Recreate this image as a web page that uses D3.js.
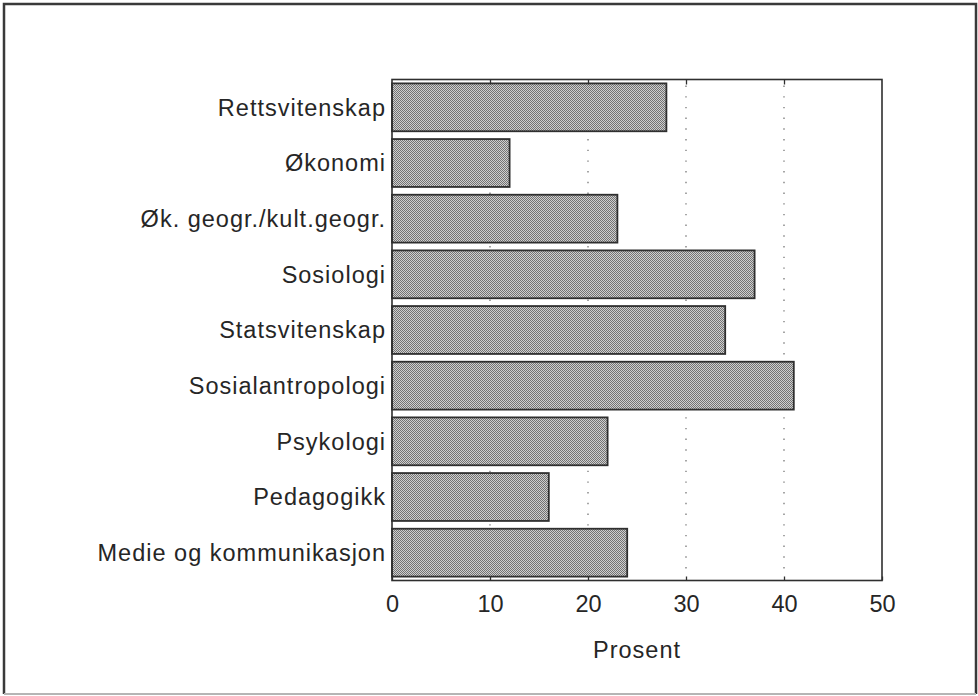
<!DOCTYPE html>
<html>
<head>
<meta charset="utf-8">
<script src="https://cdn.jsdelivr.net/npm/d3@7"></script>
<style>
  body { margin: 0; background: #fff; }
  text { font-family: "Liberation Sans", Arial, sans-serif; fill: #262626; }
</style>
</head>
<body>
<div id="root"></div>
<script>
const w = 978;
const h = 696;
const plotLeft = 392;
const plotRight = 882;
const plotTop = 79.5;
const plotBottom = 580.5;

const fields = [
  "Rettsvitenskap",
  "Økonomi",
  "Øk. geogr./kult.geogr.",
  "Sosiologi",
  "Statsvitenskap",
  "Sosialantropologi",
  "Psykologi",
  "Pedagogikk",
  "Medie og kommunikasjon",
];
const percent = [28, 12, 23, 37, 34, 41, 22, 16, 24];
const xTicks = [0, 10, 20, 30, 40, 50];
const gridTicks = [10, 20, 30, 40];

const data = fields.map((f, i) => ({ field: f, value: percent[i] }));

const svg = d3
  .select("#root")
  .append("svg")
  .attr("width", w)
  .attr("height", h);

// halftone fill like the printed original
const pat = svg
  .append("defs")
  .append("pattern")
  .attr("id", "dots")
  .attr("width", 2)
  .attr("height", 2)
  .attr("patternUnits", "userSpaceOnUse");
pat.append("rect").attr("width", 2).attr("height", 2).attr("fill", "#cfcfcf");
pat.append("rect").attr("width", 1).attr("height", 1).attr("fill", "#737373");
pat.append("rect").attr("x", 1).attr("y", 1).attr("width", 1).attr("height", 1).attr("fill", "#737373");

// outer frame
const frame = svg.append("g").attr("fill", "none");
frame.append("path").attr("d", "M4,694 V4 H976 V694").attr("stroke", "#3a3a3a").attr("stroke-width", 2.5);
frame.append("line").attr("x1", 4).attr("x2", 976).attr("y1", 694).attr("y2", 694).attr("stroke", "#b5b5b5").attr("stroke-width", 2);

const xScale = d3.scaleLinear().domain([0, 50]).range([plotLeft, plotRight]);
const yScale = d3
  .scaleBand()
  .domain(fields)
  .range([plotTop, plotBottom])
  .paddingInner(0.14)
  .paddingOuter(0.07);

// dotted gridlines behind the bars
svg
  .append("g")
  .selectAll("line")
  .data(gridTicks)
  .join("line")
  .attr("x1", (d) => xScale(d))
  .attr("x2", (d) => xScale(d))
  .attr("y1", plotTop + 6)
  .attr("y2", plotBottom - 3)
  .attr("stroke", "#808080")
  .attr("stroke-width", 1.4)
  .attr("stroke-dasharray", "1.4 9.3");

// bars
svg
  .append("g")
  .selectAll("rect")
  .data(data)
  .join("rect")
  .attr("x", xScale(0))
  .attr("y", (d) => yScale(d.field))
  .attr("width", (d) => xScale(d.value) - xScale(0))
  .attr("height", yScale.bandwidth())
  .attr("fill", "url(#dots)")
  .attr("stroke", "#2f2f2f")
  .attr("stroke-width", 1.8);

// plot box
svg
  .append("rect")
  .attr("x", plotLeft)
  .attr("y", plotTop)
  .attr("width", plotRight - plotLeft)
  .attr("height", plotBottom - plotTop)
  .attr("fill", "none")
  .attr("stroke", "#2f2f2f")
  .attr("stroke-width", 1.6);

// inward ticks top and bottom
const xAxisBottom = d3.axisBottom(xScale).tickValues(xTicks).tickSize(-4).tickPadding(15);
const gx = svg
  .append("g")
  .attr("transform", `translate(0,${plotBottom})`)
  .call(xAxisBottom);
gx.select(".domain").remove();
gx.selectAll(".tick line").attr("stroke", "#2f2f2f").attr("stroke-width", 1.3);
gx.selectAll(".tick text")
  .attr("font-size", 23.5)
  .attr("font-family", null)
  .attr("fill", "#262626")
  .attr("dy", "0.71em");

const gxTop = svg
  .append("g")
  .attr("transform", `translate(0,${plotTop})`)
  .call(d3.axisTop(xScale).tickValues(gridTicks).tickSize(-5).tickFormat(""));
gxTop.select(".domain").remove();
gxTop.selectAll(".tick line").attr("stroke", "#2f2f2f").attr("stroke-width", 1.3);

// category labels
svg
  .append("g")
  .selectAll("text")
  .data(fields)
  .join("text")
  .attr("x", plotLeft - 6)
  .attr("y", (d) => yScale(d) + yScale.bandwidth() / 2)
  .attr("dy", "0.36em")
  .attr("text-anchor", "end")
  .attr("font-size", 23.5)
  .attr("letter-spacing", 1)
  .text((d) => d);

svg
  .append("text")
  .attr("x", (plotLeft + plotRight) / 2)
  .attr("y", 658)
  .attr("text-anchor", "middle")
  .attr("font-size", 23.5)
  .attr("letter-spacing", 1)
  .text("Prosent");
</script>
</body>
</html>
